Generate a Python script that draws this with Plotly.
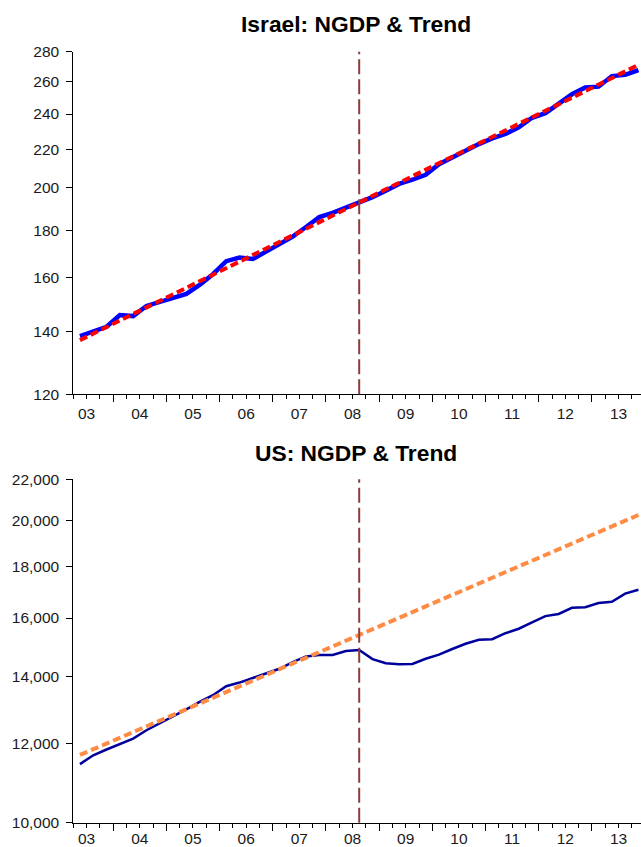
import math
import plotly.graph_objects as go

# Quarterly observations, 2003Q2 .. 2013Q4
quarters = [f"{y}Q{q}" for y in range(2003, 2014) for q in range(1, 5)][1:]

# Israel nominal GDP and its log-linear trend
israel_ngdp = [138.6, 140.2, 141.8, 146.0, 145.6, 149.3, 150.8, 152.2, 153.8, 157.3,
               161.5, 166.8, 168.3, 167.7, 170.7, 173.8, 177.2, 181.5, 186.0, 188.0,
               190.3, 193.0, 195.4, 198.5, 201.9, 204.0, 206.5, 212.0, 215.6, 219.4,
               222.8, 226.0, 228.5, 232.3, 237.8, 240.5, 246.0, 252.0, 256.3, 256.8,
               263.6, 264.4, 267.6]
israel_trend = [137.2, 139.4, 141.7, 144.0, 146.4, 148.8, 151.2, 153.7, 156.2, 158.7,
                161.3, 164.0, 166.7, 169.4, 172.1, 175.0, 177.8, 180.7, 183.7, 186.7,
                189.7, 192.8, 196.0, 199.2, 202.4, 205.7, 209.1, 212.5, 216.0, 219.5,
                223.1, 226.7, 230.4, 234.2, 238.0, 241.9, 245.9, 249.9, 254.0, 258.1,
                262.3, 266.6, 271.0]

# US nominal GDP ($bn) and its log-linear trend
us_ngdp = [11440, 11675, 11830, 11980, 12130, 12365, 12560, 12780, 12975, 13195,
           13400, 13680, 13795, 13940, 14080, 14240, 14460, 14650, 14700, 14698,
           14830, 14868, 14560, 14420, 14390, 14400, 14570, 14710, 14900, 15080,
           15220, 15240, 15450, 15610, 15840, 16070, 16150, 16380, 16400, 16560,
           16610, 16920, 17070]
us_trend = [11683, 11837, 11994, 12152, 12312, 12475, 12640, 12807, 12976, 13147,
            13321, 13497, 13675, 13856, 14039, 14224, 14412, 14602, 14795, 14990,
            15188, 15389, 15592, 15798, 16007, 16218, 16432, 16649, 16869, 17092,
            17318, 17546, 17778, 18013, 18251, 18492, 18736, 18983, 19234, 19488,
            19745, 20006, 20270]

break_quarter = "2008Q3"

year_labels = ["03", "04", "05", "06", "07", "08", "09", "10", "11", "12", "13"]
israel_ticks = [120, 140, 160, 180, 200, 220, 240, 260, 280]
us_ticks = [10000, 12000, 14000, 16000, 18000, 20000, 22000]


def qpos(label):
    """Centre of a quarter on a decimal-year axis."""
    y, q = label.split("Q")
    return int(y) + (int(q) - 1) / 4 + 0.125


t = [qpos(q) for q in quarters]
t_break = qpos(break_quarter)
first_year = 2003
year_bounds = [first_year + 1 + i for i in range(len(year_labels) - 1)]
year_centres = [first_year + i + 0.5 for i in range(len(year_labels))]

W, H = 641, 847
plot_left = 73.3
px_per_year = 53.19
x_range = [2003.25, 2003.25 + (W - plot_left) / px_per_year]


def ydom(top_px, bottom_px):
    return [(H - bottom_px) / H, (H - top_px) / H]


FONT = "Liberation Sans, Arial, sans-serif"
TICK_FONT = dict(family=FONT, size=15.5, color="#1a1a1a")
GRID = "#D4D4D4"

fig = go.Figure()
fig.add_trace(go.Scatter(x=t, y=israel_ngdp, mode="lines", xaxis="x", yaxis="y",
                         line=dict(color="#0000FF", width=4.5), showlegend=False))
fig.add_trace(go.Scatter(x=t, y=israel_trend, mode="lines", xaxis="x3", yaxis="y",
                         line=dict(color="#FF0000", width=4, dash="8px,4px"), showlegend=False))
fig.add_trace(go.Scatter(x=t, y=us_ngdp, mode="lines", xaxis="x2", yaxis="y2",
                         line=dict(color="#00009C", width=2.5), showlegend=False))
fig.add_trace(go.Scatter(x=t, y=us_trend, mode="lines", xaxis="x4", yaxis="y2",
                         line=dict(color="#FF8C45", width=4, dash="8px,4px"), showlegend=False))


def tick_axis(anchor):
    return dict(domain=[plot_left / W, 1], anchor=anchor, range=x_range,
                showline=True, linecolor="black", linewidth=1,
                ticks="outside", tickvals=year_bounds, ticklen=7, tickwidth=1,
                tickcolor="black", showticklabels=False, showgrid=False, zeroline=False,
                minor=dict(dtick=0.25, tick0=2003.25, ticks="outside", ticklen=4,
                           tickwidth=1, tickcolor="black", showgrid=False))


def label_axis(base, anchor, standoff):
    return dict(overlaying=base, anchor=anchor, range=x_range, side="bottom",
                showline=False, ticks="", tickvals=year_centres, ticktext=year_labels,
                tickfont=TICK_FONT, showgrid=False, zeroline=False,
                ticklabelstandoff=standoff)


def value_axis(dom, anchor, lo, hi, ticks, fmt):
    return dict(domain=dom, anchor=anchor, type="log",
                range=[math.log10(lo), math.log10(hi)],
                tickvals=ticks, tickformat=fmt, tickfont=TICK_FONT,
                showline=True, linecolor="black", linewidth=1,
                ticks="outside", ticklen=6, tickwidth=1, tickcolor="black",
                showgrid=False, zeroline=False, ticklabelstandoff=4)


fig.update_layout(
    width=W, height=H,
    margin=dict(l=0, r=0, t=0, b=0),
    paper_bgcolor="white", plot_bgcolor="white",
    template="none",
    showlegend=False,
    xaxis=tick_axis("y"),
    xaxis3=label_axis("x", "y", 8),
    yaxis=value_axis(ydom(51.7, 394.3), "x", 120, 280, israel_ticks, "d"),
    xaxis2=tick_axis("y2"),
    xaxis4=label_axis("x2", "y2", 5),
    yaxis2=value_axis(ydom(479.3, 822.7), "x2", 10000, 22000, us_ticks, ",d"),
)

# Horizontal grid at the inner tick values only (none on the frame edges)
for xr, yr, ticks in (("x domain", "y", israel_ticks), ("x2 domain", "y2", us_ticks)):
    for v in ticks[1:-1]:
        fig.add_shape(type="line", xref=xr, yref=yr, x0=0, x1=1,
                      y0=math.log10(v), y1=math.log10(v), layer="below",
                      line=dict(color=GRID, width=1))

for xr, yr in (("x", "y domain"), ("x2", "y2 domain")):
    fig.add_shape(type="line", xref=xr, yref=yr, x0=t_break, x1=t_break, y0=0, y1=1,
                  line=dict(color="#8B3C3C", width=2, dash="15px,5px"))

title_font = dict(family=FONT, size=22.8, color="black")
for text, ypx in (("<b>Israel: NGDP & Trend</b>", 23.5), ("<b>US: NGDP & Trend</b>", 452.5)):
    fig.add_annotation(text=text, xref="paper", yref="paper",
                       x=356 / W, y=(H - ypx) / H, xanchor="center", yanchor="middle",
                       showarrow=False, font=title_font)

fig.write_html("out.html")
